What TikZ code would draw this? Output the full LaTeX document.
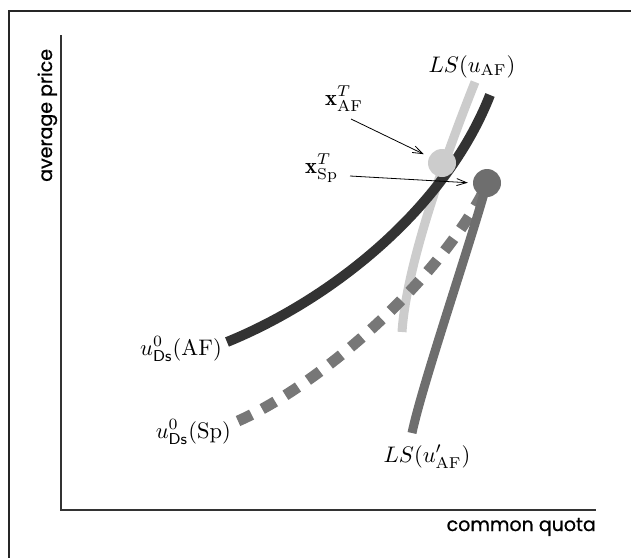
\documentclass[tikz,border=0pt]{standalone}
\usepackage{fontspec}
\newfontfamily\axisfont{Poppins}[FakeBold=0.8]
\usetikzlibrary{arrows.meta}
\definecolor{cdark}{HTML}{333333}
\definecolor{clight}{HTML}{CCCCCC}
\definecolor{cmed}{HTML}{6E6E6E}
\definecolor{cdash}{HTML}{777777}
\newcommand{\lbltxt}[1]{\scalebox{2.25}{#1}}
\tikzset{
  curve/.style={line width=9pt},
  lbl/.style={inner sep=0pt},
  axlbl/.style={font=\axisfont\fontsize{19}{22}\selectfont, inner sep=0pt},
  ptr/.style={line width=0.8pt, -{Straight Barb[length=10pt,width=7pt]}},
  dot/.style={circle, inner sep=0pt, minimum size=28pt}
}
\begin{document}
\begin{tikzpicture}[x=1pt,y=-1pt]
\useasboundingbox (0,0) rectangle (631,557);
% frame
\draw[line width=2.5pt, black!85] (9,560) -- (9,11) -- (635,11);
% axes
\draw[line width=2.2pt, cdark] (61,35) -- (61,510) -- (596,510);
\node[axlbl, rotate=90, anchor=base west] (ylab) at (52,182) {average price};
\node[axlbl, anchor=base east] (xlab) at (596,531) {common quota};
% curves
\draw[curve, clight] (402,332) .. controls (406,270) and (440,170) .. (475,82);
\draw[curve, cdark, line width=10pt] (227,342) .. controls (330,300) and (445,210) .. (490,95);
\draw[line width=11pt, cdash, dash pattern=on 15pt off 12pt] (238,421) .. controls (320,385) and (440,280) .. (487,185);
\draw[curve, cmed] (412,433) .. controls (422,385) and (470,245) .. (487,183);
% points
\node[dot, fill=clight] (pAF) at (442,163) {};
\node[dot, fill=cmed] (pSp) at (487,183) {};
% labels
\node[lbl, anchor=base] (lsAF) at (472,72) {\lbltxt{$LS(u_{\mathrm{AF}})$}};
\node[lbl, anchor=base] (lsAFp) at (427,462) {\lbltxt{$LS(u'_{\mathrm{AF}})$}};
\node[lbl, anchor=base east] (uAF) at (222,355) {\lbltxt{$u^{0}_{\mathsf{Ds}}(\mathrm{AF})$}};
\node[lbl, anchor=base east] (uSp) at (231,438) {\lbltxt{$u^{0}_{\mathsf{Ds}}(\mathrm{Sp})$}};
\node[lbl, anchor=base west] (xAF) at (325,105) {\lbltxt{$\mathbf{x}^{T}_{\mathrm{AF}}$}};
\node[lbl, anchor=base west] (xSp) at (305,173) {\lbltxt{$\mathbf{x}^{T}_{\mathrm{Sp}}$}};
% arrows
\coordinate (a1) at (351,119);
\coordinate (a2) at (350,176);
\draw[ptr, shorten >=6pt] (a1) -- (pAF);
\draw[ptr, shorten >=5pt] (a2) -- (pSp.west);
\end{tikzpicture}
\end{document}
